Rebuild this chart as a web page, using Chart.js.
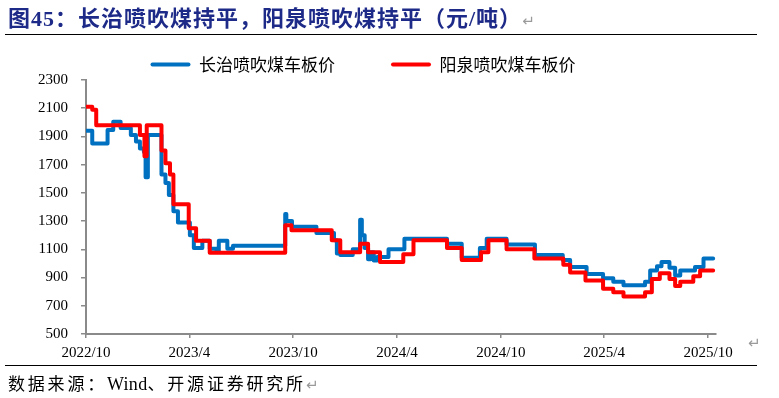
<!DOCTYPE html>
<html><head><meta charset="utf-8">
<script src="https://cdn.jsdelivr.net/npm/chart.js@4.4.0/dist/chart.umd.min.js"></script>
<style>
html,body{margin:0;padding:0;background:#fff;}
#wrap{position:relative;width:779px;height:398px;overflow:hidden;background:#fff;}
#c{position:absolute;left:0;top:0;}
.t{position:absolute;white-space:nowrap;}
#title{left:8px;top:0px;font-weight:bold;font-size:22px;letter-spacing:1px;font-family:"Liberation Serif","Noto Sans CJK SC",serif;color:#1d2a88;}
.mark{color:#9a9a9a;font-weight:normal;font-family:"DejaVu Sans";font-size:15px;letter-spacing:0;}
.latin{letter-spacing:0.3px;font-size:18px;}
#l1{position:absolute;left:5px;top:34px;width:752px;height:0;border-top:1.5px solid #000;}
#l2{position:absolute;left:5px;top:365px;width:752px;height:0;border-top:1.5px solid #000;}
#src{left:8px;top:370px;font-size:17px;letter-spacing:2.8px;font-family:"Liberation Serif","Noto Sans CJK SC",serif;color:#000;}
#pm{left:748px;top:334px;}
</style></head>
<body>
<div id="wrap">
<canvas id="c" width="779" height="398" style="width:779px;height:398px"></canvas>
<div class="t" id="title">图45：长治喷吹煤持平，阳泉喷吹煤持平（元/吨）<span class="mark">↵</span></div>
<div id="l1"></div>
<div id="l2"></div>
<div class="t" id="src">数据来源：<span class="latin">Wind</span>、开源证券研究所<span class="mark">↵</span></div>
<div class="t mark" id="pm">↵</div>
</div>
<script>
const startDate = '2022-10-01';
const axisEndDate = '2025-10-15';
const tickDates = ['2022-10-01','2023-04-01','2023-10-01','2024-04-01','2024-10-01','2025-04-01','2025-10-01'];
const tickLabels = ['2022/10','2023/4','2023/10','2024/4','2024/10','2025/4','2025/10'];
const yMin = 500, yMax = 2300, yStep = 200;
const seriesNames = ['长治喷吹煤车板价','阳泉喷吹煤车板价'];

// 长治喷吹煤车板价: change dates and values
const blueDates = ['2022-10-01','2022-10-12','2022-11-08','2022-11-18','2022-12-01','2022-12-19','2022-12-28','2023-01-04','2023-01-11','2023-01-14','2023-01-18','2023-02-11','2023-02-18','2023-02-24','2023-03-04','2023-03-12','2023-04-02','2023-04-09','2023-04-24','2023-05-07','2023-05-19','2023-05-23','2023-06-07','2023-06-17','2023-09-17','2023-09-19','2023-09-29','2023-11-11','2023-12-12','2023-12-17','2023-12-23','2024-01-14','2024-01-27','2024-01-30','2024-02-04','2024-02-10','2024-02-15','2024-02-20','2024-02-26','2024-03-17','2024-04-14','2024-06-28','2024-07-24','2024-08-25','2024-09-06','2024-10-11','2024-11-30','2025-01-18','2025-01-31','2025-03-01','2025-03-30','2025-04-17','2025-05-05','2025-06-12','2025-06-21','2025-07-03','2025-07-11','2025-07-25','2025-08-04','2025-08-13','2025-09-08','2025-09-23','2025-10-10'];
const blueValues = [1940,1850,1945,2005,1960,1910,1865,1815,1790,1610,1910,1630,1570,1485,1370,1290,1200,1110,1160,1105,1085,1160,1105,1125,1350,1300,1260,1215,1165,1070,1060,1100,1310,1200,1110,1030,1080,1020,1045,1100,1175,1140,1040,1110,1175,1135,1060,1025,975,925,895,870,845,870,950,980,1010,970,915,950,975,1035,1035];

// 阳泉喷吹煤车板价: change dates and values
const redDates = ['2022-10-01','2022-10-12','2022-10-19','2023-01-04','2023-01-12','2023-01-16','2023-02-11','2023-02-18','2023-02-26','2023-03-04','2023-03-31','2023-04-13','2023-05-07','2023-09-17','2023-09-28','2023-12-08','2023-12-23','2024-01-27','2024-02-10','2024-03-02','2024-04-12','2024-04-30','2024-06-28','2024-07-24','2024-08-27','2024-09-09','2024-10-11','2024-11-29','2025-01-19','2025-01-31','2025-02-27','2025-03-30','2025-04-17','2025-05-05','2025-06-12','2025-06-24','2025-07-08','2025-07-25','2025-08-04','2025-08-13','2025-09-05','2025-09-17','2025-10-10'];
const redValues = [2110,2090,1980,1910,1760,1980,1800,1710,1630,1420,1250,1160,1075,1270,1235,1165,1080,1140,1080,1010,1065,1165,1110,1025,1080,1165,1100,1035,990,935,880,820,795,765,795,890,930,890,840,870,910,950,950];

const dayOf = s => (Date.parse(s + 'T00:00:00Z') - Date.parse(startDate + 'T00:00:00Z')) / 86400000;
const toPoints = (dates, vals) => dates.map((d, i) => ({x: dayOf(d), y: vals[i]}));
const tickDays = tickDates.map(dayOf);
const axisGray = '#8a8a8a';
const tickFont = {family: '"Liberation Serif", "Times New Roman", serif', size: 15};

new Chart(document.getElementById('c'), {
  type: 'line',
  data: {
    datasets: [
      {label: seriesNames[0], data: toPoints(blueDates, blueValues), borderColor: '#0070C0', backgroundColor: '#0070C0',
       borderWidth: 4, pointRadius: 0, stepped: true, order: 2, borderJoinStyle: 'round', borderCapStyle: 'round'},
      {label: seriesNames[1], data: toPoints(redDates, redValues), borderColor: '#FF0000', backgroundColor: '#FF0000',
       borderWidth: 4, pointRadius: 0, stepped: true, order: 1, borderJoinStyle: 'round', borderCapStyle: 'round'}
    ]
  },
  options: {
    responsive: false,
    animation: false,
    devicePixelRatio: 1,
    layout: {padding: {left: 10, right: 63, top: 0, bottom: 34}},
    plugins: {
      tooltip: {enabled: false},
      legend: {
        position: 'top',
        maxHeight: 80,
        labels: {
          boxWidth: 40, boxHeight: 4, padding: 56, color: '#000',
          font: {family: '"Noto Sans CJK SC", sans-serif', size: 17},
          generateLabels: chart => chart.data.datasets.map((ds, i) => ({
            text: ds.label, fillStyle: ds.borderColor, strokeStyle: ds.borderColor,
            lineWidth: 0, hidden: false, datasetIndex: i, borderRadius: 2
          }))
        }
      }
    },
    scales: {
      x: {
        type: 'linear', min: 0, max: dayOf(axisEndDate),
        afterBuildTicks: s => { s.ticks = tickDays.map(v => ({value: v})); },
        afterFit: s => { s.height = 30; },
        ticks: {autoSkip: false, maxRotation: 0, color: '#000', font: tickFont, padding: 6,
                callback: (v, i) => tickLabels[i]},
        grid: {drawOnChartArea: false, drawTicks: true, tickLength: 4, color: axisGray, lineWidth: 1.5},
        border: {display: true, color: axisGray, width: 2}
      },
      y: {
        min: yMin, max: yMax,
        afterFit: s => { s.width = 76; },
        ticks: {stepSize: yStep, color: '#000', font: tickFont, padding: 13, callback: v => String(v)},
        grid: {drawOnChartArea: false, drawTicks: true, tickLength: 5, color: axisGray, lineWidth: 1.5},
        border: {display: true, color: axisGray, width: 2}
      }
    }
  }
});
</script>
</body></html>
